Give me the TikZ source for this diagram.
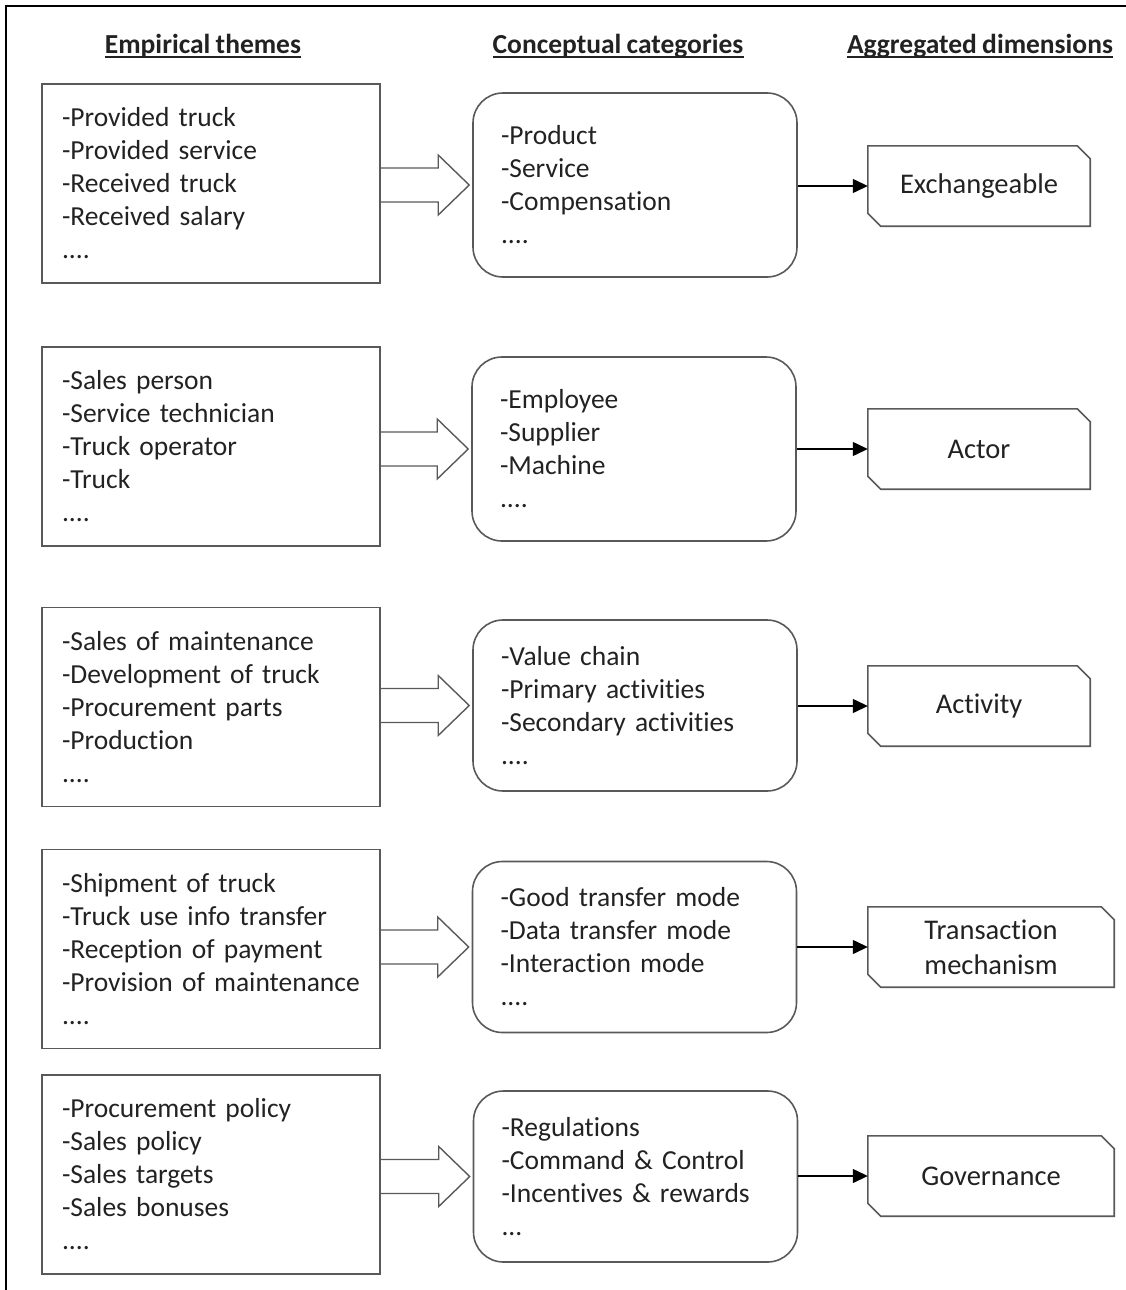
\documentclass[tikz,border=0pt]{standalone}
\usepackage{fontspec}
\setmainfont{Carlito}[Ligatures=NoCommon, WordSpace=0.85]
\usetikzlibrary{arrows.meta,calc}
\definecolor{txt}{HTML}{222222}
\definecolor{edge}{HTML}{595959}
\newcommand\snipbox[1]{\draw[edgeline] (#1.north west) -- ([xshift=-13pt]#1.north east) -- ([yshift=-13pt]#1.north east) -- (#1.south east) -- ([xshift=13pt]#1.south west) -- ([yshift=13pt]#1.south west) -- cycle;}
\newcommand\blockarrow[2]{\draw[barrow] let \p1=(#1.east), \p2=(#2.west) in (\x1,\y2+17pt) -- (\x2-34pt,\y2+17pt) -- (\x2-34pt,\y2+30pt) -- (\x2-3pt,\y2) -- (\x2-34pt,\y2-30pt) -- (\x2-34pt,\y2-17pt) -- (\x1,\y2-17pt);}
\newcommand\headline[1]{\draw[line width=1.5pt, txt] ([yshift=-4pt]#1.base west) -- ([yshift=-4pt]#1.base east);}
\begin{document}
\begin{tikzpicture}[x=1pt,y=-1pt,
  every node/.style={text=txt, font=\fontsize{27.5}{33}\selectfont},
  head/.style={font=\fontsize{27.5}{33}\selectfont\bfseries, inner sep=0pt, anchor=base},
  lbox/.style={draw=edge, line width=1.6pt, align=left, text width=298pt, inner xsep=20pt, inner ysep=0pt, minimum height=199pt},
  mbox/.style={draw=edge, line width=1.6pt, rounded corners=30pt, align=left, text width=268pt, inner xsep=28pt, inner ysep=0pt, minimum height=184pt},
  mboxs/.style={mbox, minimum height=171pt},
  dbox/.style={align=center, minimum width=222pt, minimum height=80pt, inner sep=0pt, font=\fontsize{28.5}{34}\selectfont},
  dboxw/.style={dbox, minimum width=246pt},
  edgeline/.style={draw=edge, line width=1.6pt},
  barrow/.style={draw=edge, line width=1.4pt, line join=miter},
  conn/.style={draw=black, line width=1.3pt, -{Triangle[length=15pt,width=14pt]}}
]
\useasboundingbox (0,0) rectangle (1126,1290);
\draw[line width=2.5pt, black] (6,1290) -- (6,6) -- (1126,6);

% headings
\node[head] (h1) at (203,53) {Empirical themes};
\node[head] (h2) at (618,53) {Conceptual categories};
\node[head] (h3) at (980,53) {Aggregated dimensions};
\headline{h1}\headline{h2}\headline{h3}

% row 1
\node[lbox] (L1) at (211,183.5) {-Provided truck\\-Provided service\\-Received truck\\-Received salary\\....};
\node[mbox] (M1) at (635,185) {-Product\\-Service\\-Compensation\\....};
\node[dbox] (D1) at (979,186) {Exchangeable};
% row 2
\node[lbox] (L2) at (211,446.5) {-Sales person\\-Service technician\\-Truck operator\\-Truck\\....};
\node[mbox] (M2) at (634,449) {-Employee\\-Supplier\\-Machine\\....};
\node[dbox] (D2) at (979,449) {Actor};
% row 3
\node[lbox] (L3) at (211,707) {-Sales of maintenance\\-Development of truck\\-Procurement parts\\-Production\\....};
\node[mboxs] (M3) at (635,705.5) {-Value chain\\-Primary activities\\-Secondary activities\\....};
\node[dbox] (D3) at (979,706) {Activity};
% row 4
\node[lbox] (L4) at (211,949) {-Shipment of truck\\-Truck use info transfer\\-Reception of payment\\-Provision of maintenance\\....};
\node[mboxs] (M4) at (634.5,947) {-Good transfer mode\\-Data transfer mode\\-Interaction mode\\....};
\node[dboxw] (D4) at (991,947) {Transaction\\[1pt]mechanism};
% row 5
\node[lbox] (L5) at (211,1174.5) {-Procurement policy\\-Sales policy\\-Sales targets\\-Sales bonuses\\....};
\node[mboxs] (M5) at (635.5,1176.5) {-Regulations\\-Command \& Control\\-Incentives \& rewards\\...};
\node[dboxw] (D5) at (991,1176) {Governance};

\foreach \i in {1,...,5}{
  \snipbox{D\i}
  \blockarrow{L\i}{M\i}
  \draw[conn] (M\i.east |- D\i.west) -- (D\i.west);
}
\end{tikzpicture}
\end{document}
